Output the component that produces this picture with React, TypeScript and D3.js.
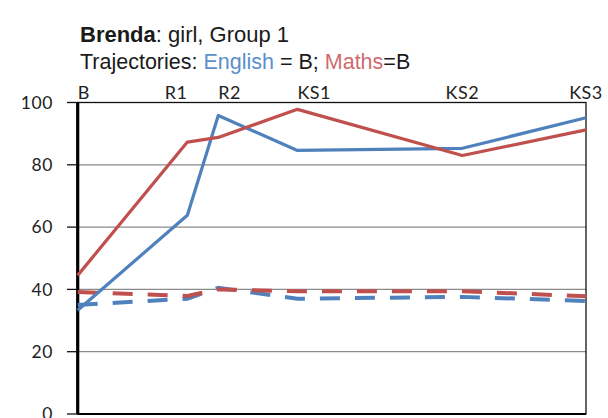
import React from "react";
import * as d3 from "d3";

const categories = ["B", "R1", "R2", "KS1", "KS2", "KS3"];
const ages = [1.67, 4.33, 5.08, 7, 11, 14];
const englishActual = [33.3, 63.8, 95.8, 84.6, 85.3, 95.1];
const mathsActual = [44.5, 87.3, 88.8, 97.8, 83.0, 91.2];
const englishTrajectory = [35.0, 37.0, 40.5, 37.0, 37.6, 36.3];
const mathsTrajectory = [39.2, 37.9, 40.0, 39.4, 39.4, 37.8];
const yTicks = [0, 20, 40, 60, 80, 100];
const labelAnchors = ["start", "end", "start", "start", "middle", "middle"];

const W = 608;
const H = 418;
const BLUE = "#4F81BD";
const RED = "#C0504D";

export default function App() {
  const x = d3.scaleLinear().domain([ages[0], ages[ages.length - 1]]).range([77.7, 586]);
  const y = d3.scaleLinear().domain([0, 100]).range([414, 102.5]);
  const line = d3
    .line<number>()
    .x((_, i) => x(ages[i]))
    .y((d) => y(d));
  const axisFont = "Lato, 'Open Sans', sans-serif";
  const titleFont = "'Liberation Sans', Arial, sans-serif";
  return (
    <svg
      width={W}
      height={H}
      style={{ position: "absolute", left: 0, top: 0, background: "#fff" }}
    >
      <rect x={0} y={0} width={W} height={H} fill="#fff" />
      {yTicks
        .filter((t) => t > 0 && t < 100)
        .map((t) => (
          <line key={t} x1={x.range()[0]} x2={x.range()[1]} y1={y(t)} y2={y(t)} stroke="#8a8a8a" strokeWidth={1.2} />
        ))}
      <rect
        x={x.range()[0]}
        y={y(100)}
        width={x.range()[1] - x.range()[0]}
        height={y(0) - y(100)}
        fill="none"
        stroke="#111"
        strokeWidth={1.3}
      />
      <line x1={x.range()[0]} x2={x.range()[0]} y1={y(100)} y2={y(0)} stroke="#000" strokeWidth={3.2} />
      <line x1={x.range()[0]} x2={x.range()[1]} y1={y(0)} y2={y(0)} stroke="#000" strokeWidth={1.8} />
      {yTicks.map((t) => (
        <g key={t}>
          <line x1={67} x2={x.range()[0]} y1={y(t)} y2={y(t)} stroke="#111" strokeWidth={1.3} />
          <text
            x={53}
            y={y(t)}
            dy="0.36em"
            textAnchor="end"
            fontFamily={axisFont}
            fontSize={17.5}
            letterSpacing={0.6}
            fill="#222"
          >
            {t}
          </text>
        </g>
      ))}
      {categories.map((c, i) => (
        <text
          key={c}
          x={x(ages[i])}
          y={99}
          textAnchor={labelAnchors[i] as any}
          fontFamily={axisFont}
          fontSize={18}
          letterSpacing={0.5}
          fill="#222"
        >
          {c}
        </text>
      ))}
      <path d={line(englishTrajectory) || ""} fill="none" stroke={BLUE} strokeWidth={4} strokeDasharray="20,15" />
      <path d={line(mathsTrajectory) || ""} fill="none" stroke={RED} strokeWidth={4} strokeDasharray="20,15" />
      <path d={line(englishActual) || ""} fill="none" stroke={BLUE} strokeWidth={3.2} strokeLinejoin="round" />
      <path d={line(mathsActual) || ""} fill="none" stroke={RED} strokeWidth={3.2} strokeLinejoin="round" />
      <text x={80} y={42} fontFamily={titleFont} fontSize={22} fill="#1a1a1a">
        <tspan fontWeight="bold">Brenda</tspan>
        <tspan>: girl, Group 1</tspan>
      </text>
      <text x={80} y={69} fontFamily={titleFont} fontSize={21.5} fill="#1a1a1a">
        <tspan>Trajectories: </tspan>
        <tspan fill="#5b8fcb">English</tspan>
        <tspan> = B; </tspan>
        <tspan fill="#cf6b6e">Maths</tspan>
        <tspan>=B</tspan>
      </text>
    </svg>
  );
}
